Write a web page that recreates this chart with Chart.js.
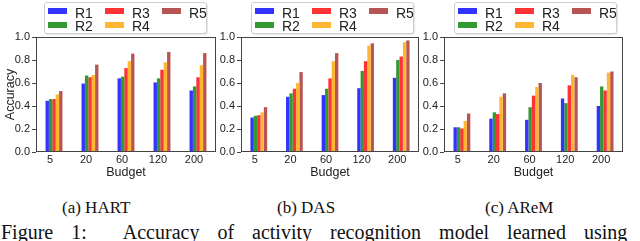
<!DOCTYPE html>
<html>
<head>
<meta charset="utf-8">
<script src="https://cdn.jsdelivr.net/npm/chart.js@4"></script>
<style>
  html, body { margin: 0; padding: 0; background: #fff; }
  body { width: 640px; height: 241px; position: relative; overflow: hidden; font-family: "Liberation Sans", Arial, sans-serif; }
  .panel { position: absolute; top: 0; height: 190px; }
  .legend { position: absolute; top: 2px; width: 161px; height: 30px; background: #fff;
            border: 1px solid #cfcfcf; border-radius: 3px; box-shadow: 1px 1px 1px rgba(0,0,0,0.1); }
  .sw { position: absolute; width: 19px; height: 6px; }
  .lt { position: absolute; font-size: 14px; line-height: 14px; color: #222; }
  .cap { position: absolute; top: 198px; font-family: "Liberation Serif", "Times New Roman", serif; font-size: 17px; color: #111; white-space: nowrap; }
  .fig { position: absolute; left: 1px; top: 221px; font-family: "Liberation Serif", "Times New Roman", serif;
         font-size: 20px; color: #111; white-space: nowrap; word-spacing: 13px; }
</style>
</head>
<body>
<div class="panel" style="left:0;width:220px"><canvas id="chartA" width="220" height="190"></canvas></div>
<div class="panel" style="left:218px;width:204px"><canvas id="chartB" width="204" height="190"></canvas></div>
<div class="panel" style="left:422px;width:218px"><canvas id="chartC" width="218" height="190"></canvas></div>

<div class="cap" style="left:62px">(a) HART</div>
<div class="cap" style="left:277px">(b) DAS</div>
<div class="cap" style="left:485px">(c) AReM</div>
<div class="fig">Figure 1:&nbsp;&nbsp;Accuracy of activity recognition model learned using</div>

<script>
const budgets = ['5', '20', '60', '120', '200'];
const seriesNames = ['R1', 'R2', 'R3', 'R4', 'R5'];
const seriesColors = ['rgb(51,51,255)', 'rgb(51,153,51)', 'rgb(255,51,51)', 'rgb(255,183,51)', 'rgb(183,85,85)'];

// (a) HART
const hartR1 = [0.445, 0.595, 0.64, 0.605, 0.535];
const hartR2 = [0.46, 0.665, 0.655, 0.64, 0.57];
const hartR3 = [0.46, 0.65, 0.73, 0.715, 0.65];
const hartR4 = [0.50, 0.67, 0.79, 0.78, 0.755];
const hartR5 = [0.53, 0.76, 0.855, 0.87, 0.86];

// (b) DAS
const dasR1 = [0.30, 0.48, 0.495, 0.555, 0.645];
const dasR2 = [0.315, 0.51, 0.55, 0.705, 0.80];
const dasR3 = [0.32, 0.55, 0.64, 0.79, 0.83];
const dasR4 = [0.345, 0.60, 0.79, 0.925, 0.955];
const dasR5 = [0.39, 0.695, 0.86, 0.945, 0.97];

// (c) AReM
const aremR1 = [0.215, 0.29, 0.28, 0.465, 0.40];
const aremR2 = [0.215, 0.345, 0.39, 0.425, 0.57];
const aremR3 = [0.205, 0.33, 0.49, 0.58, 0.535];
const aremR4 = [0.27, 0.48, 0.565, 0.67, 0.69];
const aremR5 = [0.335, 0.51, 0.60, 0.65, 0.70];

const yTicks = [0, 0.2, 0.4, 0.6, 0.8, 1.0];

const tickFont = { family: 'Liberation Sans', size: 11 };
const frameColor = '#444';

// box around the plot area, like the matplotlib axes frame
const framePlugin = {
  id: 'frame',
  afterDraw(chart) {
    const a = chart.chartArea;
    const c = chart.ctx;
    c.save();
    c.strokeStyle = frameColor;
    c.lineWidth = 1;
    c.strokeRect(a.left + 0.5, a.top + 0.5, a.right - a.left - 1, a.bottom - a.top - 1);
    c.restore();
  }
};

function makeChart(id, series, yWidth, padRight, showYTitle) {
  return new Chart(document.getElementById(id), {
    type: 'bar',
    data: {
      labels: budgets,
      datasets: series.map((d, i) => ({
        label: seriesNames[i],
        data: d,
        backgroundColor: seriesColors[i],
        borderWidth: 0,
        categoryPercentage: 0.47,
        barPercentage: 1.0
      }))
    },
    options: {
      responsive: false,
      animation: false,
      layout: { padding: { top: 37, right: padRight, left: 0, bottom: 10 } },
      plugins: { legend: { display: false }, tooltip: { enabled: false } },
      scales: {
        x: {
          grid: { display: false, drawTicks: false, tickLength: 0 },
          border: { display: false },
          ticks: { font: tickFont, color: '#222', padding: 1, labelOffset: -4, maxRotation: 0, autoSkip: false },
          title: { display: true, text: 'Budget', font: { family: 'Liberation Sans', size: 12.5 }, color: '#222', padding: { top: 0, bottom: 0 } },
          afterFit(scale) { scale.height = 28; }
        },
        y: {
          min: 0,
          max: 1,
          afterBuildTicks(scale) { scale.ticks = yTicks.map(v => ({ value: v })); },
          ticks: { font: tickFont, color: '#222', padding: 2, callback: v => v.toFixed(1) },
          grid: { display: true, drawOnChartArea: false, tickLength: 4, color: frameColor },
          border: { display: false },
          title: { display: showYTitle, text: 'Accuracy', font: { family: 'Liberation Sans', size: 12.5 }, color: '#222', padding: { top: 3, bottom: 0 } },
          afterFit(scale) { scale.width = yWidth; }
        }
      }
    },
    plugins: [framePlugin]
  });
}

makeChart('chartA', [hartR1, hartR2, hartR3, hartR4, hartR5], 36, 4, true);
makeChart('chartB', [dasR1, dasR2, dasR3, dasR4, dasR5], 23, 3, false);
makeChart('chartC', [aremR1, aremR2, aremR3, aremR4, aremR5], 22, 17, false);

// legends: three columns, filled column by column (R1 R2 | R3 R4 | R5)
function makeLegend(left) {
  const box = document.createElement('div');
  box.className = 'legend';
  box.style.left = left + 'px';
  seriesNames.forEach((name, i) => {
    const col = Math.floor(i / 2), row = i % 2;
    const sw = document.createElement('div');
    sw.className = 'sw';
    sw.style.background = seriesColors[i];
    sw.style.left = (3 + col * 57) + 'px';
    sw.style.top = (5 + row * 14) + 'px';
    const t = document.createElement('div');
    t.className = 'lt';
    t.textContent = name;
    t.style.left = (30 + col * 57) + 'px';
    t.style.top = (3 + row * 13) + 'px';
    box.appendChild(sw);
    box.appendChild(t);
  });
  document.body.appendChild(box);
}

makeLegend(44);
makeLegend(251);
makeLegend(454);
</script>
</body>
</html>
